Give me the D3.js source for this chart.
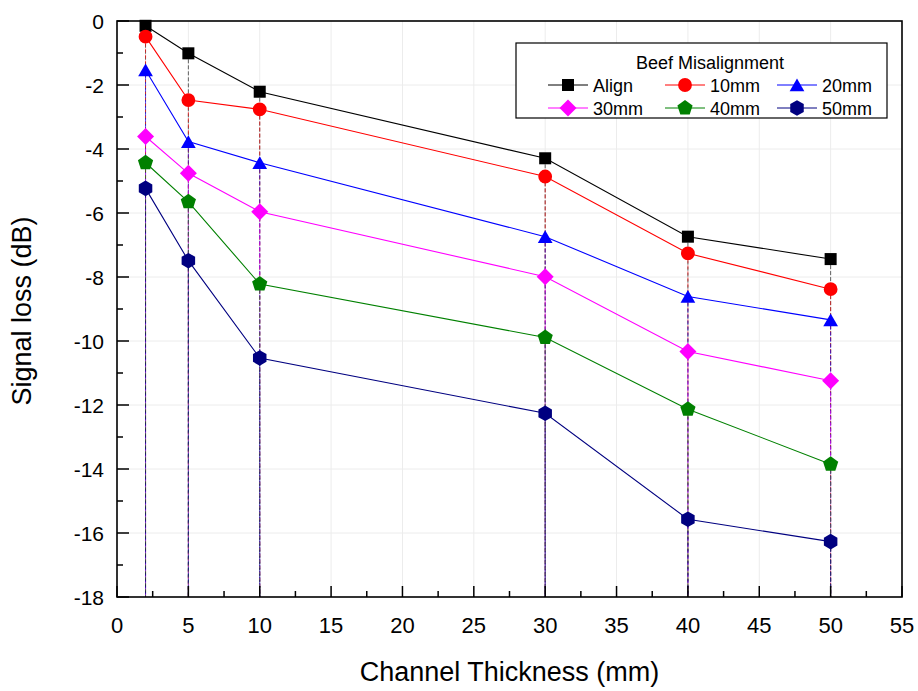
<!DOCTYPE html>
<html>
<head>
<meta charset="utf-8">
<script src="https://cdn.jsdelivr.net/npm/d3@7"></script>
<style>
  body { margin: 0; background: #fff; }
  svg { font-family: "Liberation Sans", Arial, sans-serif; }
</style>
</head>
<body>
<svg id="chart" width="918" height="691"></svg>
<script>
// channel thickness (mm)
const thickness = [2, 5, 10, 30, 40, 50];

const seriesNames = ["Align", "10mm", "20mm", "30mm", "40mm", "50mm"];
const seriesColors = ["#000000", "#ff0000", "#0000ff", "#ff00ff", "#008000", "#000080"];
const seriesShapes = ["square", "circle", "triangle", "diamond", "pentagon", "hexagon"];

// signal loss (dB)
const alignLoss = [-0.15, -1.01, -2.21, -4.29, -6.74, -7.44];
const mm10Loss = [-0.49, -2.47, -2.76, -4.86, -7.26, -8.38];
const mm20Loss = [-1.53, -3.77, -4.43, -6.74, -8.61, -9.34];
const mm30Loss = [-3.61, -4.76, -5.96, -7.99, -10.33, -11.24];
const mm40Loss = [-4.43, -5.65, -8.22, -9.89, -12.13, -13.85];
const mm50Loss = [-5.23, -7.49, -10.53, -12.26, -15.57, -16.27];

const xTicks = [0, 5, 10, 15, 20, 25, 30, 35, 40, 45, 50, 55];
const yTicks = [0, -2, -4, -6, -8, -10, -12, -14, -16, -18];

const allLoss = [alignLoss, mm10Loss, mm20Loss, mm30Loss, mm40Loss, mm50Loss];

const svg = d3.select("#chart");
const pLeft = 117, pRight = 902, pTop = 21, pBottom = 597;

const x = d3.scaleLinear().domain([0, 55]).range([pLeft, pRight]);
const y = d3.scaleLinear().domain([-18, 0]).range([pBottom, pTop]);

// faint grid
svg.append("g").selectAll("line").data(xTicks.slice(1, -1)).enter().append("line")
    .attr("x1", d => x(d)).attr("x2", d => x(d))
    .attr("y1", pTop).attr("y2", pBottom)
    .attr("stroke", "#ececec").attr("stroke-width", 1);
svg.append("g").selectAll("line").data(yTicks.slice(1, -1)).enter().append("line")
    .attr("x1", pLeft).attr("x2", pRight)
    .attr("y1", d => y(d)).attr("y2", d => y(d))
    .attr("stroke", "#ececec").attr("stroke-width", 1);

// shape helper
function polygon(n, r, rot) {
    const p = d3.path();
    for (let i = 0; i < n; i++) {
        const a = rot + i * 2 * Math.PI / n;
        const px = r * Math.cos(a), py = r * Math.sin(a);
        if (i === 0) p.moveTo(px, py); else p.lineTo(px, py);
    }
    p.closePath();
    return p.toString();
}
function shapePath(shape) {
    if (shape === "square") return polygon(4, 8.5, Math.PI / 4);
    if (shape === "circle") return d3.symbol(d3.symbolCircle, 150)();
    if (shape === "triangle") return polygon(3, 8.5, -Math.PI / 2);
    if (shape === "diamond") return polygon(4, 8.5, 0);
    if (shape === "pentagon") return polygon(5, 8, -Math.PI / 2);
    return polygon(6, 7.8, Math.PI / 2);
}

// drop lines
allLoss.forEach(function(vals, s) {
    svg.append("g").selectAll("line").data(vals).enter().append("line")
        .attr("x1", (d, i) => x(thickness[i])).attr("x2", (d, i) => x(thickness[i]))
        .attr("y1", d => y(d)).attr("y2", pBottom)
        .attr("stroke", seriesColors[s])
        .attr("stroke-width", 1)
        .attr("stroke-opacity", 0.6)
        .attr("stroke-dasharray", "4,2");
});

// lines
const line = d3.line().x((d, i) => x(thickness[i])).y(d => y(d));
allLoss.forEach(function(vals, s) {
    svg.append("path").datum(vals)
        .attr("d", line)
        .attr("fill", "none")
        .attr("stroke", seriesColors[s])
        .attr("stroke-width", 1.1);
});

// markers
allLoss.forEach(function(vals, s) {
    svg.append("g").selectAll("path").data(vals).enter().append("path")
        .attr("d", shapePath(seriesShapes[s]))
        .attr("transform", (d, i) => "translate(" + x(thickness[i]) + "," + (y(d) + (seriesShapes[s] === "triangle" ? 2 : 0)) + ")")
        .attr("fill", seriesColors[s]);
});

// axes frame
svg.append("rect")
    .attr("x", pLeft).attr("y", pTop)
    .attr("width", pRight - pLeft).attr("height", pBottom - pTop)
    .attr("fill", "none").attr("stroke", "#000").attr("stroke-width", 1.6);

// x ticks (inward)
const xAxis = svg.append("g");
xAxis.selectAll(".maj").data(xTicks).enter().append("line")
    .attr("x1", d => x(d)).attr("x2", d => x(d))
    .attr("y1", pBottom).attr("y2", pBottom - 11)
    .attr("stroke", "#000").attr("stroke-width", 1.5);
xAxis.selectAll(".min").data(xTicks.slice(0, -1)).enter().append("line")
    .attr("x1", d => x(d + 2.5)).attr("x2", d => x(d + 2.5))
    .attr("y1", pBottom).attr("y2", pBottom - 6)
    .attr("stroke", "#000").attr("stroke-width", 1.5);
xAxis.selectAll("text").data(xTicks).enter().append("text")
    .attr("x", d => x(d)).attr("y", 633)
    .attr("text-anchor", "middle")
    .attr("font-size", 22)
    .text(d => d);

// y ticks (inward)
const yAxis = svg.append("g");
yAxis.selectAll(".maj").data(yTicks).enter().append("line")
    .attr("x1", pLeft).attr("x2", pLeft + 12)
    .attr("y1", d => y(d)).attr("y2", d => y(d))
    .attr("stroke", "#000").attr("stroke-width", 1.5);
yAxis.selectAll(".min").data(yTicks.slice(0, -1)).enter().append("line")
    .attr("x1", pLeft).attr("x2", pLeft + 6)
    .attr("y1", d => y(d - 1)).attr("y2", d => y(d - 1))
    .attr("stroke", "#000").attr("stroke-width", 1.5);
yAxis.selectAll("text").data(yTicks).enter().append("text")
    .attr("x", 104).attr("y", d => y(d) + 7.5)
    .attr("text-anchor", "end")
    .attr("font-size", 21)
    .text(d => d);

// axis titles
svg.append("text")
    .attr("transform", "translate(31,311) rotate(-90)")
    .attr("text-anchor", "middle")
    .attr("font-size", 27)
    .text("Signal loss (dB)");
svg.append("text")
    .attr("x", (pLeft + pRight) / 2).attr("y", 681)
    .attr("text-anchor", "middle")
    .attr("font-size", 27)
    .text("Channel Thickness (mm)");

// legend
const lg = svg.append("g");
lg.append("rect")
    .attr("x", 516).attr("y", 43).attr("width", 371).attr("height", 75)
    .attr("fill", "#fff").attr("stroke", "#000").attr("stroke-width", 1.2);
lg.append("text")
    .attr("x", 710).attr("y", 69)
    .attr("text-anchor", "middle").attr("font-size", 18)
    .text("Beef Misalignment");
const colX = [568, 685, 797];
const rowY = [85, 108];
seriesNames.forEach(function(name, s) {
    const cx = colX[s % 3], cy = rowY[Math.floor(s / 3)];
    lg.append("line")
        .attr("x1", cx - 20).attr("x2", cx + 20)
        .attr("y1", cy).attr("y2", cy)
        .attr("stroke", seriesColors[s]).attr("stroke-width", 1);
    lg.append("path")
        .attr("d", shapePath(seriesShapes[s]))
        .attr("transform", "translate(" + cx + "," + (cy + (seriesShapes[s] === "triangle" ? 2 : 0)) + ")")
        .attr("fill", seriesColors[s]);
    lg.append("text")
        .attr("x", cx + 25).attr("y", cy + 7)
        .attr("font-size", 18)
        .text(name);
});
</script>
</body>
</html>
